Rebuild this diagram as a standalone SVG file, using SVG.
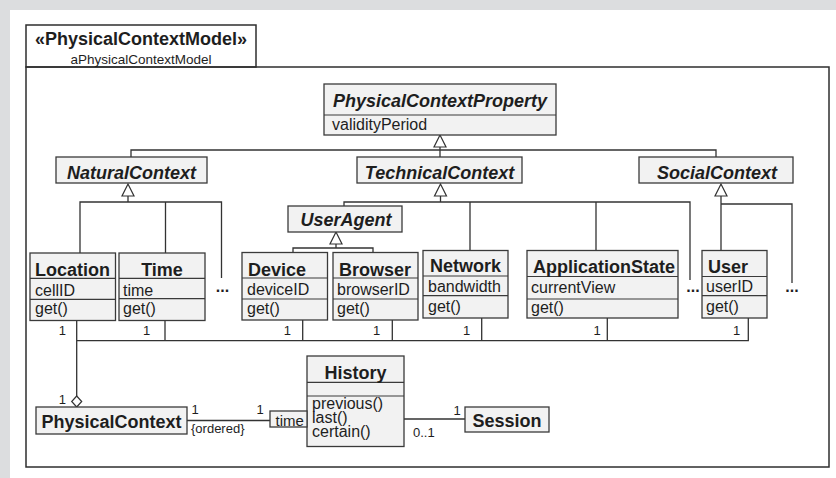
<svg xmlns="http://www.w3.org/2000/svg" width="836" height="478" viewBox="0 0 836 478">
  <defs>
    <style>
      text { font-family: "Liberation Sans", Arial, sans-serif; fill: #1e1e1e; }
      .box { fill: #f2f2f2; stroke: #3a3a3a; stroke-width: 1.3; }
      .div { stroke: #3a3a3a; stroke-width: 1.2; fill: none; }
      .frame { fill: none; stroke: #2e2e2e; stroke-width: 1.5; }
      .ln { fill: none; stroke: #333; stroke-width: 1.3; }
      .tri { fill: #fff; stroke: #333; stroke-width: 1.2; }
      .name { font-size: 18px; font-weight: bold; }
      .abs { font-size: 18px; font-weight: bold; font-style: italic; text-anchor: middle; }
      .attr { font-size: 16px; }
      .mult { font-size: 13px; }
      .dots { font-size: 16px; font-weight: bold; text-anchor: middle; }
      .mid { text-anchor: middle; }
    </style>
  </defs>

  <!-- page background -->
  <rect x="0" y="0" width="836" height="478" fill="#dcdddf"/>
  <rect x="10" y="10" width="826" height="468" fill="#ffffff"/>

  <!-- package frame -->
  <g id="frame">
    <rect class="frame" x="26" y="67" width="803" height="400"/>
    <rect class="frame" x="26" y="25" width="230" height="42"/>
    <text x="141" y="45" class="name mid">«PhysicalContextModel»</text>
    <text x="141" y="63.5" class="mid" style="font-size:13.5px">aPhysicalContextModel</text>
  </g>

  <!-- connectors -->
  <g id="connectors">
    <!-- generalizations to PhysicalContextProperty -->
    <path class="ln" d="M440 147 V150 M131 157 V150 H716 V157 M440 150 V157"/>
    <polygon class="tri" points="440,135 434,147 446,147"/>
    <!-- NaturalContext children -->
    <path class="ln" d="M128 196 V202 M80 253 V202 H221.5 V278 M165.5 202 V253"/>
    <polygon class="tri" points="128,184 122,196 134,196"/>
    <!-- TechnicalContext children -->
    <path class="ln" d="M440.5 196 V202 M344 206 V202 H690 V280 M470 202 V250 M596 202 V250"/>
    <polygon class="tri" points="440.5,184 434.5,196 446.5,196"/>
    <!-- UserAgent children -->
    <path class="ln" d="M336 244 V248 M293 252 V248 H373 V252"/>
    <polygon class="tri" points="336,232 330,244 342,244"/>
    <!-- SocialContext children -->
    <path class="ln" d="M721 196 V250 M721 204 H792 V283"/>
    <polygon class="tri" points="721,184 715,196 727,196"/>
    <!-- properties aggregated into PhysicalContext -->
    <path class="ln" d="M76.7 320 V396 M76.7 340.7 H748.3 V318 M165 320 V340.7 M302.7 320 V340.7 M392.3 320 V340.7 M481.7 318 V340.7 M607.3 318 V340.7"/>
    <polygon class="tri" points="76.7,396 81.7,401.5 76.7,407 71.7,401.5"/>
    <!-- PhysicalContext to History (qualified), History to Session -->
    <path class="ln" d="M187 420.5 H270 M404 419 H465"/>

    <text x="62.3" y="335" class="mult mid">1</text>
    <text x="146.7" y="335" class="mult mid">1</text>
    <text x="287.3" y="335" class="mult mid">1</text>
    <text x="376.7" y="335" class="mult mid">1</text>
    <text x="466.5" y="335" class="mult mid">1</text>
    <text x="597" y="335" class="mult mid">1</text>
    <text x="736.5" y="335" class="mult mid">1</text>
    <text x="62.3" y="403.5" class="mult mid">1</text>
    <text x="195" y="414" class="mult mid">1</text>
    <text x="191" y="432.5" class="mult" style="font-size:13px">{ordered}</text>
    <text x="260" y="414" class="mult mid">1</text>
    <text x="413" y="436.5" class="mult">0..1</text>
    <text x="457" y="414.5" class="mult mid">1</text>

    <text x="222.5" y="292" class="dots">...</text>
    <text x="693" y="292" class="dots">...</text>
    <text x="792" y="292" class="dots">...</text>
  </g>

  <g id="PhysicalContextProperty">
    <rect class="box" x="324" y="84" width="232" height="51"/>
    <line class="div" x1="324" y1="115" x2="556" y2="115"/>
    <text x="440" y="106.7" class="abs">PhysicalContextProperty</text>
    <text x="332" y="129.5" class="attr">validityPeriod</text>
  </g>

  <g id="NaturalContext">
    <rect class="box" x="56" y="157" width="151" height="26"/>
    <text x="131.5" y="179" class="abs">NaturalContext</text>
  </g>

  <g id="TechnicalContext">
    <rect class="box" x="357" y="157" width="165" height="26"/>
    <text x="439.5" y="179" class="abs">TechnicalContext</text>
  </g>

  <g id="SocialContext">
    <rect class="box" x="639" y="157" width="154" height="26"/>
    <text x="717" y="179" class="abs">SocialContext</text>
  </g>

  <g id="UserAgent">
    <rect class="box" x="288" y="206" width="114" height="26"/>
    <text x="346" y="226" class="abs">UserAgent</text>
  </g>

  <g id="Location">
    <rect class="box" x="30" y="253" width="85.5" height="67.5"/>
    <path class="div" d="M30 278.3 H115.5 M30 299.3 H115.5"/>
    <text x="35" y="276" class="name">Location</text>
    <text x="35" y="295.5" class="attr">cellID</text>
    <text x="35" y="314" class="attr">get()</text>
  </g>

  <g id="Time">
    <rect class="box" x="119" y="253" width="86" height="67.5"/>
    <path class="div" d="M119 278.3 H205 M119 298.7 H205"/>
    <text x="162" y="276" class="name mid">Time</text>
    <text x="123" y="295.5" class="attr">time</text>
    <text x="123" y="314" class="attr">get()</text>
  </g>

  <g id="Device">
    <rect class="box" x="242" y="252.5" width="85.5" height="67.5"/>
    <path class="div" d="M242 278 H327.5 M242 299 H327.5"/>
    <text x="248" y="276" class="name">Device</text>
    <text x="247" y="295" class="attr">deviceID</text>
    <text x="247" y="313.5" class="attr">get()</text>
  </g>

  <g id="Browser">
    <rect class="box" x="333" y="252.5" width="85" height="67.5"/>
    <path class="div" d="M333 278 H418 M333 299 H418"/>
    <text x="339" y="276" class="name">Browser</text>
    <text x="337" y="295" class="attr">browserID</text>
    <text x="337" y="313.5" class="attr">get()</text>
  </g>

  <g id="Network">
    <rect class="box" x="423" y="250.5" width="85" height="67.5"/>
    <path class="div" d="M423 276 H508 M423 295.7 H508"/>
    <text x="430" y="272" class="name">Network</text>
    <text x="428" y="292" class="attr">bandwidth</text>
    <text x="428" y="311.5" class="attr">get()</text>
  </g>

  <g id="ApplicationState">
    <rect class="box" x="527" y="250.5" width="151" height="67.5"/>
    <path class="div" d="M527 276.5 H678 M527 299 H678"/>
    <text x="533" y="272.5" class="name">ApplicationState</text>
    <text x="531" y="293" class="attr">currentView</text>
    <text x="531" y="313" class="attr">get()</text>
  </g>

  <g id="User">
    <rect class="box" x="702" y="250.5" width="65" height="67.5"/>
    <path class="div" d="M702 276.5 H767 M702 295.7 H767"/>
    <text x="708" y="272.5" class="name">User</text>
    <text x="706" y="292" class="attr">userID</text>
    <text x="706" y="311.5" class="attr">get()</text>
  </g>

  <g id="PhysicalContext">
    <rect class="box" x="36" y="407" width="151" height="27"/>
    <text x="111.5" y="428" class="name mid">PhysicalContext</text>
  </g>

  <g id="History">
    <rect class="box" x="307" y="356" width="97" height="90.5"/>
    <path class="div" d="M307 382.3 H404 M307 396 H404"/>
    <text x="355.5" y="379" class="name mid">History</text>
    <text x="312" y="409" class="attr">previous()</text>
    <text x="312" y="423" class="attr">last()</text>
    <text x="312" y="437" class="attr">certain()</text>
    <!-- qualifier on the History end -->
    <rect class="box" x="270" y="411" width="37" height="16"/>
    <text x="275.5" y="425.5" style="font-size:15px">time</text>
  </g>

  <g id="Session">
    <rect class="box" x="465" y="407" width="84" height="25"/>
    <text x="507" y="427" class="name mid">Session</text>
  </g>
</svg>
